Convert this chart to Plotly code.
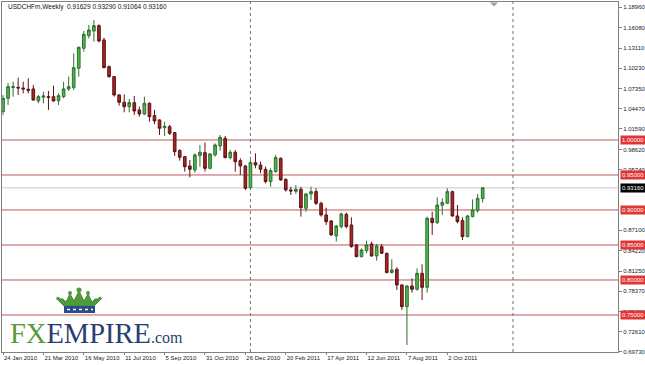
import plotly.graph_objects as go
import pandas as pd

# ---------------- data (weekly USDCHF candles) ----------------
opens = [1.0405, 1.0595, 1.0748, 1.0752, 1.0743, 1.0724, 1.0729, 1.0557, 1.0610, 1.0619,
         1.0619, 1.0562, 1.0619, 1.0729, 1.0748, 1.1024, 1.1310, 1.1490, 1.1557, 1.1633,
         1.1429, 1.1048, 1.0905, 1.0643, 1.0538, 1.0476, 1.0533, 1.0429, 1.0371, 1.0524,
         1.0348, 1.0286, 1.0176, 1.0190, 1.0105, 0.9848, 0.9762, 0.9629, 0.9571, 0.9776,
         0.9819, 0.9595, 0.9786, 0.9914, 1.0024, 0.9748, 0.9824, 0.9705, 0.9629, 0.9319,
         0.9676, 0.9643, 0.9581, 0.9405, 0.9548, 0.9738, 0.9438, 0.9286, 0.9267, 0.9295,
         0.9024, 0.9229, 0.9262, 0.9095, 0.8929, 0.8843, 0.8629, 0.8762, 0.8938, 0.8786,
         0.8500, 0.8333, 0.8419, 0.8514, 0.8343, 0.8476, 0.8381, 0.8105, 0.8152, 0.7929,
         0.7619, 0.7914, 0.7867, 0.8095, 0.7895, 0.8881, 0.8819, 0.9067, 0.9095, 0.9262,
         0.8914, 0.8848, 0.8619, 0.8905, 0.8990, 0.91629]
highs = [1.0643, 1.0810, 1.0833, 1.0890, 1.0833, 1.0881, 1.0786, 1.0643, 1.0690, 1.0700,
         1.0776, 1.0667, 1.0833, 1.0905, 1.1238, 1.1333, 1.1557, 1.1643, 1.1714, 1.1652,
         1.1462, 1.1062, 1.0914, 1.0652, 1.0652, 1.0586, 1.0629, 1.0476, 1.0619, 1.0538,
         1.0429, 1.0295, 1.0262, 1.0214, 1.0114, 0.9867, 0.9771, 0.9714, 0.9810, 0.9929,
         0.9962, 0.9810, 0.9952, 1.0071, 1.0057, 0.9857, 0.9857, 0.9738, 0.9643, 0.9714,
         0.9810, 0.9690, 0.9619, 0.9595, 0.9786, 0.9752, 0.9452, 0.9333, 0.9357, 0.9333,
         0.9238, 0.9333, 0.9310, 0.9119, 0.9033, 0.8857, 0.8786, 0.8962, 0.8962, 0.8895,
         0.8514, 0.8452, 0.8562, 0.8548, 0.8514, 0.8514, 0.8390, 0.8295, 0.8181, 0.7938,
         0.7929, 0.8024, 0.8167, 0.8224, 0.8905, 0.8976, 0.9181, 0.9167, 0.9310, 0.9276,
         0.9071, 0.8895, 0.8929, 0.9152, 0.9229, 0.93290]
lows = [1.0357, 1.0500, 1.0619, 1.0643, 1.0667, 1.0667, 1.0562, 1.0524, 1.0524, 1.0429,
        1.0548, 1.0500, 1.0595, 1.0700, 1.0714, 1.0905, 1.1262, 1.1452, 1.1405, 1.1395,
        1.1024, 1.0890, 1.0619, 1.0490, 1.0395, 1.0395, 1.0357, 1.0333, 1.0357, 1.0262,
        1.0224, 1.0071, 1.0057, 1.0071, 0.9771, 0.9705, 0.9548, 0.9467, 0.9533, 0.9619,
        0.9548, 0.9581, 0.9762, 0.9848, 0.9738, 0.9724, 0.9548, 0.9500, 0.9286, 0.9310,
        0.9595, 0.9524, 0.9381, 0.9333, 0.9533, 0.9419, 0.9262, 0.9214, 0.9229, 0.8905,
        0.8976, 0.9143, 0.9071, 0.8905, 0.8786, 0.8629, 0.8548, 0.8738, 0.8738, 0.8462,
        0.8324, 0.8324, 0.8381, 0.8333, 0.8276, 0.8371, 0.8095, 0.8095, 0.7857, 0.7571,
        0.7071, 0.7819, 0.7848, 0.7714, 0.7819, 0.8643, 0.8800, 0.8929, 0.9086, 0.8905,
        0.8810, 0.8571, 0.8610, 0.8895, 0.8962, 0.91064]
closes = [1.0595, 1.0762, 1.0762, 1.0743, 1.0729, 1.0710, 1.0571, 1.0619, 1.0629, 1.0610,
          1.0557, 1.0633, 1.0729, 1.0762, 1.1033, 1.1324, 1.1510, 1.1571, 1.1633, 1.1414,
          1.1033, 1.0905, 1.0643, 1.0538, 1.0476, 1.0533, 1.0414, 1.0371, 1.0524, 1.0333,
          1.0271, 1.0167, 1.0195, 1.0095, 0.9833, 0.9752, 0.9619, 0.9581, 0.9786, 0.9824,
          0.9595, 0.9800, 0.9929, 1.0038, 0.9748, 0.9824, 0.9690, 0.9629, 0.9310, 0.9676,
          0.9643, 0.9581, 0.9405, 0.9562, 0.9748, 0.9429, 0.9286, 0.9271, 0.9295, 0.9033,
          0.9229, 0.9262, 0.9095, 0.8929, 0.8833, 0.8643, 0.8771, 0.8943, 0.8762, 0.8476,
          0.8333, 0.8429, 0.8500, 0.8343, 0.8486, 0.8381, 0.8105, 0.8143, 0.7929, 0.7619,
          0.7914, 0.7867, 0.8095, 0.7895, 0.8881, 0.8819, 0.9071, 0.9105, 0.9262, 0.8914,
          0.8833, 0.8619, 0.8914, 0.9000, 0.9167, 0.93160]

first_week = "2010-01-24"
tick_dates = ["2010-01-24", "2010-03-21", "2010-05-16", "2010-07-11", "2010-09-05", "2010-10-31",
              "2010-12-26", "2011-02-20", "2011-04-17", "2011-06-12", "2011-08-07", "2011-10-02"]
tick_labels = ["24 Jan 2010", "21 Mar 2010", "16 May 2010", "11 Jul 2010", "5 Sep 2010", "31 Oct 2010",
               "26 Dec 2010", "20 Feb 2011", "17 Apr 2011", "12 Jun 2011", "7 Aug 2011", "2 Oct 2011"]
separator_dates = ["2011-01-02", "2012-01-01"]

price_ticks = [1.1896, 1.1608, 1.1311, 1.1023, 1.0735, 1.0447, 1.0159, 0.9862, 0.9574,
               0.8710, 0.8422, 0.8125, 0.7837, 0.7549, 0.7261, 0.6973]
levels = [1.00, 0.95, 0.90, 0.85, 0.80, 0.75]
current_price = 0.93160
title_text = "USDCHFm,Weekly  0.91629 0.93290 0.91064 0.93160"

# ---------------- figure ----------------
weeks = pd.date_range(first_week, periods=len(opens), freq="7D")
t0 = pd.Timestamp(first_week)
wk = pd.Timedelta(days=7)

fig = go.Figure()
fig.add_trace(go.Candlestick(
    x=weeks, open=opens, high=highs, low=lows, close=closes,
    increasing=dict(line=dict(color="#2f6f2f", width=1), fillcolor="#4cb84c"),
    decreasing=dict(line=dict(color="#5c1414", width=1), fillcolor="#a82424"),
    whiskerwidth=0, showlegend=False, hoverinfo="skip",
))

W, H = 645, 365
L, R, T, B = 2, 618, 2, 352


def P(px, py):
    return (px - L) / (R - L), (B - py) / (B - T)


shapes = []
# level lines
for lv in levels:
    shapes.append(dict(type="line", xref="paper", x0=0, x1=1, yref="y", y0=lv, y1=lv,
                       line=dict(color="rgb(185,88,88)", width=1), layer="below"))
# current price line
shapes.append(dict(type="line", xref="paper", x0=0, x1=1, yref="y", y0=current_price, y1=current_price,
                   line=dict(color="#c8c8c8", width=1), layer="below"))
# period separators
for d in separator_dates:
    shapes.append(dict(type="line", xref="x", x0=d, x1=d, yref="paper", y0=0, y1=1,
                       line=dict(color="#707070", width=1, dash="dot"), layer="below"))

# shift marker triangle at top
a, b, c = P(490, 2.5), P(498, 2.5), P(494, 6.5)
shapes.append(dict(type="path", xref="paper", yref="paper",
                   path=f"M {a[0]},{a[1]} L {b[0]},{b[1]} L {c[0]},{c[1]} Z",
                   fillcolor="#a0a0a0", line=dict(width=0)))

# crown logo
crown_pts = [(64, 306), (57, 299), (63, 299), (66, 302), (70, 294), (74, 301), (79, 291), (84, 301),
             (88, 294), (92, 302), (95, 299), (101, 299), (94, 306)]
pp = [P(x, y) for x, y in crown_pts]
path = "M " + " L ".join(f"{x},{y}" for x, y in pp) + " Z"
shapes.append(dict(type="path", xref="paper", yref="paper", path=path,
                   fillcolor="#4f9a3a", line=dict(color="#3f8a2a", width=1)))
for cx, cy, r in [(70, 293, 2), (79, 290, 2.5), (88, 293, 2), (58, 298.5, 1.8), (100, 298.5, 1.8)]:
    p0, p1 = P(cx - r, cy - r), P(cx + r, cy + r)
    shapes.append(dict(type="circle", xref="paper", yref="paper", x0=p0[0], y0=p1[1], x1=p1[0], y1=p0[1],
                       fillcolor="#4f9a3a", line=dict(width=0)))
p0, p1 = P(64, 306), P(95, 313)
shapes.append(dict(type="rect", xref="paper", yref="paper", x0=p0[0], y0=p1[1], x1=p1[0], y1=p0[1],
                   fillcolor="#2b4a8c", line=dict(width=0)))
p0, p1 = P(67, 309.5), P(93, 309.5)
shapes.append(dict(type="line", xref="paper", yref="paper", x0=p0[0], y0=p0[1], x1=p1[0], y1=p1[1],
                   line=dict(color="white", width=1.5, dash="dot")))

annotations = []
# level price labels
for lv in levels:
    annotations.append(dict(xref="paper", x=1, xanchor="left", xshift=2, yref="y", y=lv, yanchor="middle",
                            text=f"{lv:.5f}", showarrow=False, bgcolor="#e03535", borderpad=1,
                            font=dict(family="Liberation Sans", size=6, color="white")))
annotations.append(dict(xref="paper", x=1, xanchor="left", xshift=2, yref="y", y=current_price,
                        yanchor="middle", text=f"{current_price:.5f}", showarrow=False, bgcolor="black",
                        borderpad=1, font=dict(family="Liberation Sans", size=6, color="white")))
# title
tx, ty = P(6, 7)
annotations.append(dict(xref="paper", yref="paper", x=tx, y=ty, xanchor="left", yanchor="middle",
                        text=title_text, showarrow=False,
                        font=dict(family="Liberation Sans", size=6.5, color="#111111")))
# FXEMPIRE logo
lx, ly = P(8, 333)
annotations.append(dict(xref="paper", yref="paper", x=lx, y=ly, xanchor="left", yanchor="middle",
                        text="<span style='color:#5b9a3f'>FX</span>EMPIRE<span style='font-size:16px'>.com</span>",
                        showarrow=False,
                        font=dict(family="Liberation Serif", size=28.5, color="#2b3e70")))

fig.update_layout(
    width=W, height=H,
    margin=dict(l=L, r=W - R, t=T, b=H - B, autoexpand=False),
    paper_bgcolor="white", plot_bgcolor="white",
    boxgap=0.25,
    shapes=shapes, annotations=annotations,
    xaxis=dict(
        type="date",
        range=[t0 - 0.2 * wk, t0 + 121.8 * wk],
        rangeslider=dict(visible=False),
        showgrid=False, zeroline=False,
        tickmode="array", tickvals=tick_dates, ticktext=tick_labels,
        ticklabelposition="outside right", tickangle=0,
        ticks="outside", ticklen=2, tickcolor="#808080",
        tickfont=dict(family="Liberation Sans", size=6, color="#222222"),
        showline=True, linecolor="#808080", linewidth=1, mirror=True,
        fixedrange=True,
    ),
    yaxis=dict(
        side="right",
        range=[0.6971, 1.1971],
        showgrid=False, zeroline=False,
        tickmode="array", tickvals=price_ticks, ticktext=[f"{v:.5f}" for v in price_ticks],
        ticks="outside", ticklen=3, tickcolor="#808080",
        tickfont=dict(family="Liberation Sans", size=6, color="#222222"),
        showline=True, linecolor="#808080", linewidth=1, mirror=True,
        automargin=False, fixedrange=True,
    ),
)

fig.write_html("out.html")
